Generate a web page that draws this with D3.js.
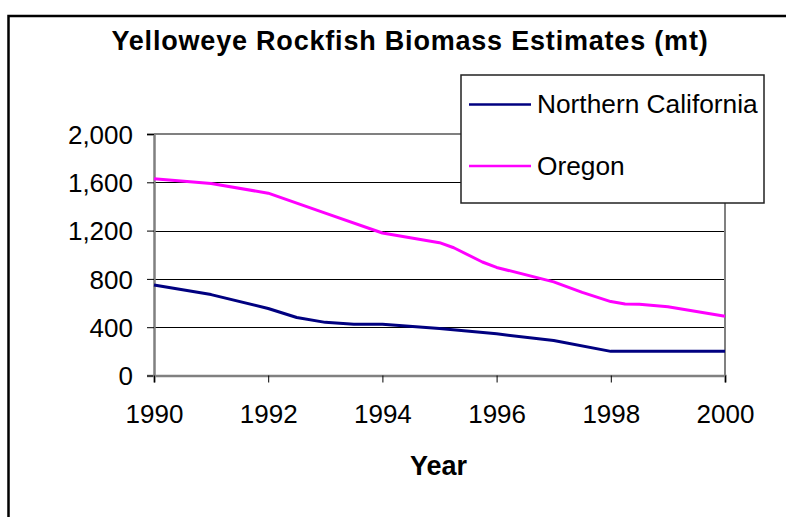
<!DOCTYPE html>
<html>
<head>
<meta charset="utf-8">
<script src="https://cdn.jsdelivr.net/npm/d3@7"></script>
<style>
  html, body { margin: 0; padding: 0; background: #fff; }
  svg { display: block; }
  text { font-family: "Liberation Sans", Arial, sans-serif; fill: #000; }
</style>
</head>
<body>
<svg id="chart" width="786" height="517"></svg>
<script>
// ---- data ----
const titleText = "Yelloweye Rockfish Biomass Estimates (mt)";
const xAxisTitle = "Year";
const seriesNames = ["Northern California", "Oregon"];
const seriesColors = ["#000080", "#FF00FF"];

const ncYears  = [1990, 1991, 1992, 1992.5, 1993, 1993.5, 1994, 1995, 1996, 1997, 1998, 1999, 2000];
const ncValues = [750,  670,  555,  480,    440,  425,    425,  390,  345,  290,  200,  200,  200];

const orYears  = [1990, 1991, 1992, 1993, 1994, 1995, 1995.25, 1995.75, 1996, 1997, 1997.5, 1998, 1998.25, 1998.5, 1999, 2000];
const orValues = [1630, 1590, 1510, 1345, 1180, 1100, 1058,    940,     895,  775,  688,    612,  592,     590,    570,  490];

const xTicks = [1990, 1992, 1994, 1996, 1998, 2000];
const yTicks = [0, 400, 800, 1200, 1600, 2000];

// ---- layout ----
const svg = d3.select("#chart");
const plot = { left: 154, right: 725, top: 134, bottom: 375.5 };

const x = d3.scaleLinear().domain([1990, 2000]).range([plot.left, plot.right]);
const y = d3.scaleLinear().domain([0, 2000]).range([plot.bottom, plot.top]);

// outer chart border
svg.append("rect")
  .attr("x", 8.5).attr("y", 16).attr("width", 820).attr("height", 620)
  .attr("fill", "#fff").attr("stroke", "#000").attr("stroke-width", 2.5);

// gridlines
svg.append("g")
  .selectAll("line")
  .data(yTicks.filter(d => d > 0 && d < 2000))
  .join("line")
  .attr("x1", plot.left).attr("x2", plot.right)
  .attr("y1", d => Math.round(y(d)) + 0.5).attr("y2", d => Math.round(y(d)) + 0.5)
  .attr("stroke", "#000").attr("stroke-width", 1);

// plot area border (top & right gray)
svg.append("path")
  .attr("d", `M${plot.left},${plot.top}H${plot.right}V${plot.bottom}`)
  .attr("fill", "none").attr("stroke", "#808080").attr("stroke-width", 2);

// y axis
const yAxis = d3.axisLeft(y).tickValues(yTicks).tickFormat(d3.format(",")).tickSize(7).tickPadding(14);
const gy = svg.append("g").attr("transform", `translate(${plot.left},0)`).call(yAxis);
gy.select(".domain").attr("stroke", "#808080").attr("stroke-width", 2.5);
gy.selectAll(".tick line").attr("stroke", "#000");
gy.selectAll(".tick text")
  .attr("font-size", 26).attr("dy", "0.35em")
  .style("font-family", '"Liberation Sans", Arial, sans-serif');

// x axis
const xAxis = d3.axisBottom(x).tickValues(xTicks).tickFormat(d3.format("d")).tickSize(7);
const gx = svg.append("g").attr("transform", `translate(0,${plot.bottom})`).call(xAxis);
gx.select(".domain").attr("stroke", "#808080").attr("stroke-width", 2.5);
gx.selectAll(".tick line").attr("stroke", "#000");
gx.selectAll(".tick text")
  .attr("font-size", 26).attr("y", 47.5).attr("dy", 0)
  .style("font-family", '"Liberation Sans", Arial, sans-serif');

// lines
const line = d3.line().x(d => x(d[0])).y(d => y(d[1]));
const series = [
  d3.zip(ncYears, ncValues),
  d3.zip(orYears, orValues)
];
svg.append("g").selectAll("path")
  .data(series)
  .join("path")
  .attr("d", line)
  .attr("fill", "none")
  .attr("stroke", (d, i) => seriesColors[i])
  .attr("stroke-width", 3)
  .attr("stroke-linejoin", "round");

// title
svg.append("text")
  .attr("x", 410).attr("y", 50)
  .attr("text-anchor", "middle")
  .attr("font-size", 27).attr("font-weight", "bold")
  .attr("letter-spacing", 0.8)
  .text(titleText);

// x axis title
svg.append("text")
  .attr("x", 438.5).attr("y", 475)
  .attr("text-anchor", "middle")
  .attr("font-size", 27).attr("font-weight", "bold")
  .text(xAxisTitle);

// legend
const lg = svg.append("g");
lg.append("rect")
  .attr("x", 461).attr("y", 75).attr("width", 303).attr("height", 128)
  .attr("fill", "#fff").attr("stroke", "#222").attr("stroke-width", 1.5);
const legY = [104.5, 166];
seriesNames.forEach((name, i) => {
  lg.append("line")
    .attr("x1", 469).attr("x2", 531)
    .attr("y1", legY[i]).attr("y2", legY[i])
    .attr("stroke", seriesColors[i]).attr("stroke-width", 2.5);
  lg.append("text")
    .attr("x", 537).attr("y", legY[i] + 8.5)
    .attr("font-size", 26.3)
    .text(name);
});
</script>
</body>
</html>
